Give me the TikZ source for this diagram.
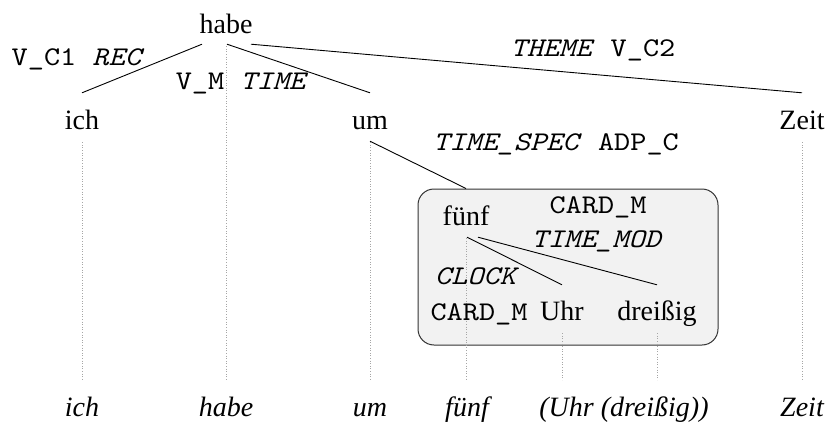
\documentclass[tikz,border=0pt]{standalone}
\usepackage{fontspec}
\setmainfont{Liberation Serif}
\setmonofont{lmmono10-regular.otf}[ItalicFont=lmmono10-italic.otf, FakeStretch=1.14]

\tikzset{
  word/.style={font=\fontsize{28}{32}\selectfont, inner sep=0pt,
    text height=19pt, text depth=7pt, anchor=base},
  gloss/.style={word, font=\fontsize{28}{32}\selectfont\itshape},
  rel/.style={font=\fontsize{27}{32}\selectfont\ttfamily, inner sep=0pt},
  arc/.style={line width=0.9pt},
  guide/.style={black!35, dotted, line width=0.6pt},
  group/.style={draw=black!80, fill=black!5, rounded corners=16pt,
    line width=1pt, inner sep=0pt},
}

\begin{document}
\begin{tikzpicture}[x=1pt, y=-1pt]
  \useasboundingbox (0,0) rectangle (828,423);

  \node[group, minimum width=300pt, minimum height=156pt] (grp) at (568,267) {};

  \foreach \n/\x/\y/\t in {habe/226/33/habe, ich/82/129/ich, um/370/129/um,
      zeit/802/129/Zeit, fuenf/466/225/fünf, uhr/562/320/Uhr,
      dreissig/657/320/dreißig}
    \node[word] (\n) at (\x,\y) {\t};

  \foreach \n/\x/\t in {ich/82/ich, habe/226/habe, um/370/um, fuenf/467/fünf,
      zeit/802/Zeit}
    \node[gloss] (g-\n) at (\x,416) {\t};
  \node[gloss] (g-uhr) at (624,416) {(Uhr (dreißig))};

  \coordinate (floor) at (0,380);
  \foreach \n in {ich,habe,um,fuenf,uhr,dreissig,zeit}
    \draw[guide] ([yshift=-6pt]\n.south) -- (\n.south |- floor);

  \draw[arc] ([xshift=-24pt,yshift=-4pt]habe.south) -- ([yshift=17pt]ich.north);
  \draw[arc] ([xshift=1pt,yshift=-4pt]habe.south) -- ([yshift=17pt]um.north);
  \draw[arc] ([xshift=25pt,yshift=-4pt]habe.south) -- ([yshift=17pt]zeit.north);
  \draw[arc] ([yshift=-5pt]um.south) -- (fuenf |- grp.north);
  \draw[arc] ([xshift=1pt,yshift=-5pt]fuenf.south) -- ([yshift=16pt]uhr.north);
  \draw[arc] ([xshift=12pt,yshift=-5pt]fuenf.south) -- ([yshift=16pt]dreissig.north);

  \node[rel] (l-ich) at (78,59) {V\_C1 \textit{REC}};
  \node[rel] (l-um) at (242,84) {V\_M \textit{TIME}};
  \node[rel] (l-zeit) at (593,50) {\textit{THEME} V\_C2};
  \node[rel] (l-fuenf) at (556,144) {\textit{TIME\_SPEC} ADP\_C};
  \node[rel] (l-card) at (598,207) {CARD\_M};
  \node[rel] (l-mod) at (597,241) {\textit{TIME\_MOD}};
  \node[rel] (l-clock) at (477,276) {\textit{CLOCK}};
  \node[rel, anchor=base] (l-uhr) at (479,320) {CARD\_M};
\end{tikzpicture}
\end{document}
